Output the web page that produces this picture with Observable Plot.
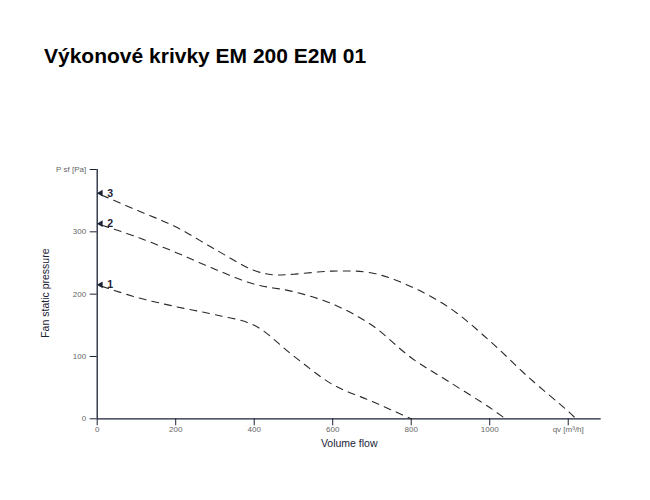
<!DOCTYPE html>
<html><head><meta charset="utf-8">
<script src="https://cdn.jsdelivr.net/npm/d3@7"></script>
<script src="https://cdn.jsdelivr.net/npm/@observablehq/plot@0.6"></script>
<style>
body{margin:0;background:#fff;font-family:"Liberation Sans",Arial,sans-serif;}
#wrap{position:relative;width:650px;height:500px;}
#title{position:absolute;left:44px;top:45px;margin:0;font-size:21px;line-height:21px;font-weight:bold;color:#000;white-space:nowrap;}
#chart{position:absolute;left:0;top:100px;}
</style>
</head><body>
<div id="wrap">
  <div id="title">Výkonové krivky EM 200 E2M 01</div>
  <div id="chart"></div>
</div>
<script>
// Curve 1
const flow1 = [0, 100, 200, 300, 400, 500, 600, 700, 800];
const pres1 = [215, 195, 180, 167, 150, 101, 55, 28, 0];
// Curve 2
const flow2 = [0, 100, 200, 300, 400, 500, 600, 700, 800, 900, 1000, 1040];
const pres2 = [313, 292, 267, 240, 216, 204, 184, 150, 98, 58, 18, 0];
// Curve 3
const flow3 = [0, 100, 200, 300, 400, 450, 500, 600, 700, 800, 900, 1000, 1100, 1200, 1220];
const pres3 = [362, 335, 308, 272, 238, 231, 232, 237, 234, 212, 177, 125, 66, 12, 0];

const curveNames = ["1", "2", "3"];
const xTicks = [0, 200, 400, 600, 800, 1000, 1200];
const xTickLabels = ["0", "200", "400", "600", "800", "1000", "qv [m³/h]"];
const yTicks = [0, 100, 200, 300, 400];
const yTickLabels = ["0", "100", "200", "300", "P sf [Pa]"];
const xTitle = "Volume flow";
const yTitle = "Fan static pressure";

const series = [[flow1, pres1], [flow2, pres2], [flow3, pres3]];
const data = series.flatMap(([fx, py], i) => fx.map((f, j) => ({curve: curveNames[i], q: f, p: py[j]})));
const starts = series.map(([fx, py], i) => ({curve: curveNames[i], q: fx[0], p: py[0]}));

const navy = "#1b2236";
const grey = "#666";

const chart = Plot.plot({
  width: 650,
  height: 400,
  marginLeft: 96.7,
  marginRight: 49.3,
  marginTop: 69,
  marginBottom: 81.7,
  style: {fontFamily: "'Liberation Sans', Arial, sans-serif", background: "transparent"},
  x: {domain: [0, 1284]},
  y: {domain: [0, 400]},
  marks: [
    Plot.axisX({ticks: xTicks, tickFormat: d => xTickLabels[xTicks.indexOf(d)], tickSize: 7, tickPadding: 1, fontSize: 8, stroke: navy, fill: grey, label: null}),
    Plot.axisY({ticks: yTicks, tickFormat: d => yTickLabels[yTicks.indexOf(d)], tickSize: 7, tickPadding: 4, fontSize: 8, stroke: navy, fill: grey, label: null}),
    Plot.ruleY([0], {stroke: navy, strokeWidth: 1.3}),
    Plot.ruleX([0], {stroke: navy, strokeWidth: 1.3}),
    Plot.line(data, {x: "q", y: "p", z: "curve", curve: "catmull-rom", stroke: "#2a2a2a", strokeWidth: 1.1, strokeDasharray: "7,6", strokeDashoffset: -5}),
    Plot.dot(starts, {x: "q", y: "p", symbol: "triangle", rotate: -90, r: 2.5, fill: navy, stroke: "none", dx: 3.5}),
    Plot.text(starts, {x: "q", y: "p", text: "curve", textAnchor: "start", dx: 10, fontSize: 10.5, fontWeight: "bold", fill: navy}),
    Plot.text([xTitle], {frameAnchor: "bottom", dy: 28, fontSize: 10.5, fill: navy}),
    Plot.text([yTitle], {frameAnchor: "left", textAnchor: "middle", rotate: -90, dx: -52, dy: -1, fontSize: 10.5, fill: navy})
  ]
});
document.getElementById("chart").appendChild(chart);
</script>
</body></html>
